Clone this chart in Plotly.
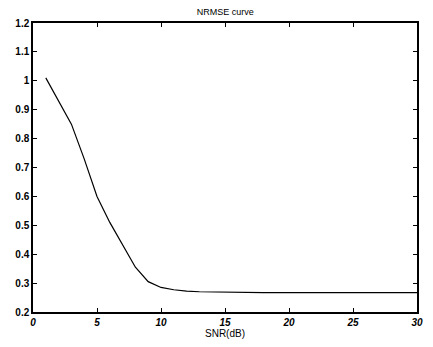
import plotly.graph_objects as go

snr = list(range(1, 31))
nrmse = [1.01, 0.93, 0.85, 0.73, 0.60, 0.51, 0.43, 0.355, 0.305, 0.285,
         0.277, 0.272, 0.270, 0.269, 0.268, 0.268, 0.267, 0.267, 0.267, 0.267,
         0.267, 0.267, 0.267, 0.267, 0.267, 0.267, 0.267, 0.267, 0.267, 0.267]
x_ticks = [0, 5, 10, 15, 20, 25, 30]
y_ticks = [0.2, 0.3, 0.4, 0.5, 0.6, 0.7, 0.8, 0.9, 1.0, 1.1, 1.2]
y_labels = ["0.2", "0.3", "0.4", "0.5", "0.6", "0.7", "0.8", "0.9", "1", "1.1", "1.2"]

fig = go.Figure()
fig.add_trace(go.Scatter(x=snr, y=nrmse, mode="lines",
                         line=dict(color="black", width=1.2), showlegend=False))

fig.update_layout(
    width=433, height=347,
    margin=dict(l=33, r=10, t=23, b=33),
    paper_bgcolor="white", plot_bgcolor="white",
    font=dict(family="Liberation Sans, Arial", color="black"),
    title=dict(text="NRMSE curve", x=0.52, xanchor="center", y=0.975, yanchor="top",
               font=dict(size=9, color="black")),
)
fig.update_xaxes(
    range=[0, 30], tickvals=x_ticks,
    ticktext=["<b><i>%d</i></b>" % v for v in x_ticks],
    ticks="inside", ticklen=4, tickcolor="black",
    showline=True, linecolor="black", linewidth=1.5, mirror="ticks",
    showgrid=False, zeroline=False,
    tickfont=dict(size=10),
    title=dict(text="SNR(dB)", font=dict(size=10), standoff=2),
)
fig.update_yaxes(
    range=[0.2, 1.2], tickvals=y_ticks,
    ticktext=["<b>%s</b>" % s for s in y_labels],
    ticks="inside", ticklen=4, tickcolor="black",
    showline=True, linecolor="black", linewidth=1.5, mirror="ticks",
    showgrid=False, zeroline=False,
    tickfont=dict(size=10),
)

fig.write_html("out.html")
